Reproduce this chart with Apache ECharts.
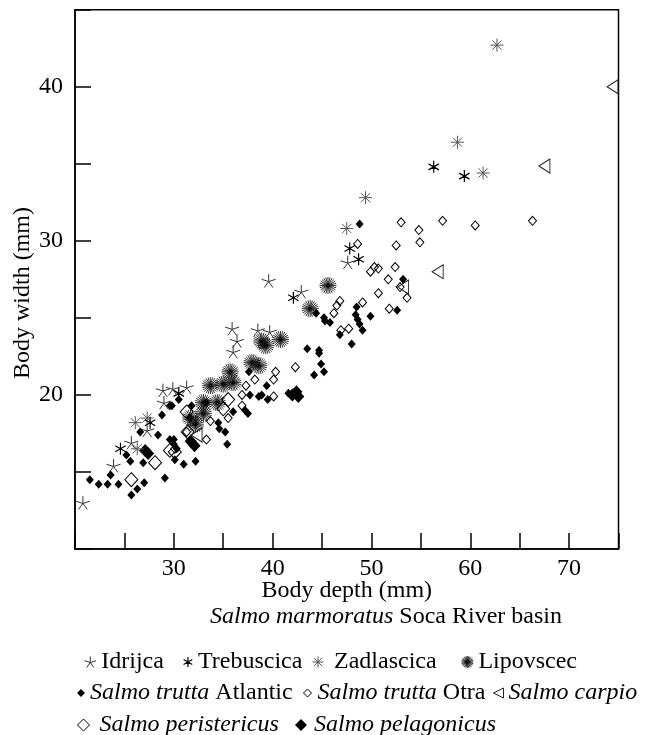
<!DOCTYPE html>
<html><head><meta charset="utf-8">
<script src="https://cdn.jsdelivr.net/npm/echarts@6/dist/echarts.min.js"></script>
<style>html,body{margin:0;padding:0;background:#fff}#c{width:651px;height:735px}</style>
</head><body><div id="c"></div>
<script>
// ---- data ----
const xTickLabels = [30, 40, 50, 60, 70];
const yTickLabels = [20, 30, 40];
const seriesNames = ['Idrijca', 'Trebuscica', 'Zadlascica', 'Lipovscec',
  'Salmo trutta Atlantic', 'Salmo trutta Otra', 'Salmo carpio',
  'Salmo peristericus', 'Salmo pelagonicus'];
const idrijca = [[20.8,13.0],[23.9,15.4],[25.7,16.9],[27.3,17.7],[29.0,19.5],[28.9,20.3],[29.9,20.4],[31.3,20.5],[35.9,24.3],[36.4,23.5],[36.0,22.8],[38.5,24.2],[39.7,24.1],[39.6,27.4],[42.9,26.7],[47.6,28.6]];
const trebuscica = [[56.3,34.8],[59.4,34.2],[48.7,28.8],[42.1,26.3],[47.8,29.5],[27.6,18.2],[24.6,16.5],[30.5,20.1]];
const zadlascica = [[62.7,42.7],[58.7,36.4],[61.3,34.4],[49.4,32.8],[47.5,30.8],[26.1,18.2],[27.3,18.5],[26.3,16.5]];
const lipovscec = [[45.6,27.1],[43.8,25.6],[38.9,23.5],[39.3,23.2],[40.8,23.6],[37.9,22.1],[38.6,21.9],[35.7,21.5],[35.0,20.7],[36.0,20.8],[33.7,20.6],[33.0,19.5],[34.4,19.5],[33.0,18.8],[31.7,18.5],[32.2,18.1]];
const truttaAtlantic = [[21.5,14.5],[22.4,14.2],[23.3,14.2],[24.4,14.2],[23.6,14.8],[26.3,13.9],[25.7,13.5],[27.0,14.3],[29.1,14.6],[25.6,15.7],[26.9,15.6],[25.2,16.1],[28.8,18.7],[28.4,17.4],[29.6,17.1],[30.1,15.8],[31.0,15.5],[32.2,15.7],[30.0,16.8],[29.6,19.3],[26.6,17.6],[31.8,19.3],[30.5,19.7],[29.8,19.3],[31.6,18.5],[30.0,17.1],[30.3,16.5],[33.3,19.5],[34.5,18.2],[35.2,17.6],[35.4,16.8],[36.0,18.9],[37.2,19.0],[37.5,18.8],[37.7,20.0],[38.6,19.9],[38.9,20.0],[39.5,19.7],[37.6,21.5],[39.4,20.6],[34.6,17.8],[41.6,20.1],[43.5,23.0],[44.7,22.9],[44.7,22.7],[44.9,22.0],[45.2,21.5],[44.2,21.3],[44.4,25.3],[45.2,25.0],[45.3,24.8],[45.8,24.7],[46.8,23.9],[48.0,23.3],[48.5,25.7],[48.4,25.2],[48.6,24.9],[48.8,24.6],[49.1,24.2],[49.9,25.1],[52.6,25.5],[53.2,27.5],[48.8,31.1]];
const truttaOtra = [[53.0,31.2],[54.8,30.7],[57.2,31.3],[60.5,31.0],[66.3,31.3],[54.9,29.9],[52.5,29.7],[48.6,29.8],[50.3,28.3],[50.7,28.2],[49.9,28.0],[52.4,28.3],[51.7,27.5],[52.9,27.0],[50.7,26.6],[53.6,26.3],[51.8,25.6],[49.1,26.0],[46.8,26.1],[46.5,25.8],[46.2,25.3],[46.9,24.2],[47.7,24.3],[42.3,21.8],[40.3,21.5],[40.1,21.0],[40.1,19.9],[38.2,21.0],[37.3,20.6],[36.9,20.0],[36.9,19.3],[35.5,18.5],[33.7,18.3],[31.3,17.6],[33.3,17.1],[30.1,16.5]];
const carpio = [[74.4,40.0],[67.5,34.85],[56.7,28.0],[53.2,27.0],[32.3,17.4]];
const peristericus = [[28.1,15.6],[25.7,14.5],[29.6,16.4],[30.1,16.3],[31.3,18.9],[35.5,19.7],[35.0,19.1],[31.4,17.6]];
const pelagonicus = [[42.0,20.0],[42.6,19.9],[42.4,20.2],[31.7,17.0],[32.1,16.7],[27.1,16.4],[27.4,16.2]];

// ---- styling ----
const FONT = '"Liberation Serif","Times New Roman",serif';
function spokes(angles) {
  return 'path://' + angles.map(a => {
    const r = a * Math.PI / 180;
    return 'M50 50L' + (50 + 50 * Math.cos(r)).toFixed(2) + ' ' + (50 + 50 * Math.sin(r)).toFixed(2);
  }).join('');
}
const burst = []; for (let a = 0; a < 360; a += 15) burst.push(a);
const NONE = 'rgba(0,0,0,0)';
const DIAMOND = 'path://M50 0L100 50L50 100L0 50Z';
const sym = {
  'Idrijca': {symbol: spokes([-90,-18,54,126,198]), size: 14, style: {color: NONE, borderColor: '#333', borderWidth: 1}},
  'Trebuscica': {symbol: spokes([-90,-30,30,90,150,210]), size: 12, style: {color: NONE, borderColor: '#000', borderWidth: 1.2}},
  'Zadlascica': {symbol: spokes([0,45,90,135,180,225,270,315]), size: 13, style: {color: NONE, borderColor: '#555', borderWidth: 1}},
  'Lipovscec': {symbol: spokes(burst), size: 17, style: {color: NONE, borderColor: '#000', borderWidth: 0.8}},
  'Salmo trutta Atlantic': {symbol: DIAMOND, size: [8, 9], style: {color: '#000', borderWidth: 0}},
  'Salmo trutta Otra': {symbol: DIAMOND, size: [8, 9], style: {color: NONE, borderColor: '#000', borderWidth: 1}},
  'Salmo carpio': {symbol: 'path://M100 0L0 50L100 100Z', size: [11, 14], style: {color: NONE, borderColor: '#222', borderWidth: 1}},
  'Salmo peristericus': {symbol: DIAMOND, size: [13, 14], style: {color: NONE, borderColor: '#000', borderWidth: 1}},
  'Salmo pelagonicus': {symbol: DIAMOND, size: [12, 13], style: {color: '#000', borderWidth: 0}}
};
const dataByName = {
  'Idrijca': idrijca, 'Trebuscica': trebuscica, 'Zadlascica': zadlascica, 'Lipovscec': lipovscec,
  'Salmo trutta Atlantic': truttaAtlantic, 'Salmo trutta Otra': truttaOtra, 'Salmo carpio': carpio,
  'Salmo peristericus': peristericus, 'Salmo pelagonicus': pelagonicus
};
const drawOrder = ['Salmo trutta Otra','Salmo peristericus','Salmo carpio','Salmo trutta Atlantic','Salmo pelagonicus','Lipovscec','Zadlascica','Trebuscica','Idrijca'];

// legend placement: [icon centre x, centre y, text start x, icon size]
const legendPos = {
  'Idrijca': [90, 662, 101, 11],
  'Trebuscica': [188, 662, 198, 10],
  'Zadlascica': [323, 662, 339, 11],
  'Lipovscec': [467, 662, 478, 12],
  'Salmo trutta Atlantic': [81, 693, 90, 8],
  'Salmo trutta Otra': [308, 693, 318, 8],
  'Salmo carpio': [498, 693, 508, 10],
  'Salmo peristericus': [88, 725, 104, 12],
  'Salmo pelagonicus': [303, 725, 316, 12]
};
const rich = {
  i: {fontFamily: FONT, fontSize: 24, fontStyle: 'italic', color: '#000', lineHeight: 24},
  n: {fontFamily: FONT, fontSize: 24, color: '#000', lineHeight: 24}
};
function legendLabel(name) {
  if (name.indexOf('Salmo trutta ') === 0) return '{i|Salmo trutta} {n|' + name.slice(13) + '}';
  if (name.indexOf('Salmo ') === 0) return '{i|' + name + '}';
  return '{n|' + name + '}';
}
const legends = seriesNames.map(name => {
  const p = legendPos[name];
  const w = Math.max(p[3], 2 * (p[2] - 5 - p[0]));
  return {
    data: [{name: name, icon: sym[name].symbol, itemStyle: Object.assign({}, sym[name].style)}],
    left: p[0] - w / 2, top: p[1] - 12, itemWidth: w, itemHeight: p[3],
    padding: 0, selectedMode: false, symbolKeepAspect: true,
    formatter: legendLabel,
    textStyle: {fontFamily: FONT, fontSize: 24, color: '#000', lineHeight: 24, rich: rich}
  };
});

const chart = echarts.init(document.getElementById('c'), null, {renderer: 'canvas'});
chart.setOption({
  animation: false,
  backgroundColor: '#fff',
  title: {
    text: '{i|Salmo marmoratus} {n|Soca River basin}',
    left: 210, top: 605, padding: 0,
    textStyle: {fontFamily: FONT, fontSize: 24, fontWeight: 'normal', color: '#000', lineHeight: 24, rich: rich}
  },
  legend: legends,
  grid: {left: 75, right: 32.5, top: 9.7, bottom: 186, show: true, borderColor: '#000', borderWidth: 1.5, containLabel: false},
  xAxis: {
    type: 'value', min: 20, max: 75, interval: 5,
    name: 'Body depth (mm)', nameLocation: 'middle', nameGap: 30, nameMoveOverlap: false,
    nameTextStyle: {fontFamily: FONT, fontSize: 24, color: '#000', lineHeight: 24, verticalAlign: 'top'},
    axisLine: {show: true, lineStyle: {color: '#000', width: 1.5}},
    axisTick: {show: true, inside: true, length: 16, lineStyle: {color: '#000', width: 1.5}},
    splitLine: {show: false},
    axisLabel: {fontFamily: FONT, fontSize: 24, color: '#000', margin: 8, lineHeight: 24,
      formatter: v => xTickLabels.indexOf(v) >= 0 ? String(v) : ''}
  },
  yAxis: {
    type: 'value', min: 10, max: 45, interval: 5,
    axisLine: {show: true, lineStyle: {color: '#000', width: 1.5}},
    axisTick: {show: true, inside: true, length: 16, lineStyle: {color: '#000', width: 1.5}},
    splitLine: {show: false},
    axisLabel: {fontFamily: FONT, fontSize: 24, color: '#000', margin: 12,
      formatter: v => yTickLabels.indexOf(v) >= 0 ? String(v) : ''}
  },
  graphic: [{
    type: 'text', x: 23, y: 293, rotation: Math.PI / 2,
    style: {text: 'Body width (mm)', font: '24px ' + FONT, fill: '#000', align: 'center', verticalAlign: 'middle'}
  }],
  series: drawOrder.map(name => ({
    name: name, type: 'scatter', data: dataByName[name],
    symbol: sym[name].symbol, symbolSize: sym[name].size, symbolKeepAspect: true,
    itemStyle: Object.assign({opacity: 1}, sym[name].style),
    emphasis: {disabled: true}, silent: true
  }))
});
</script></body></html>
